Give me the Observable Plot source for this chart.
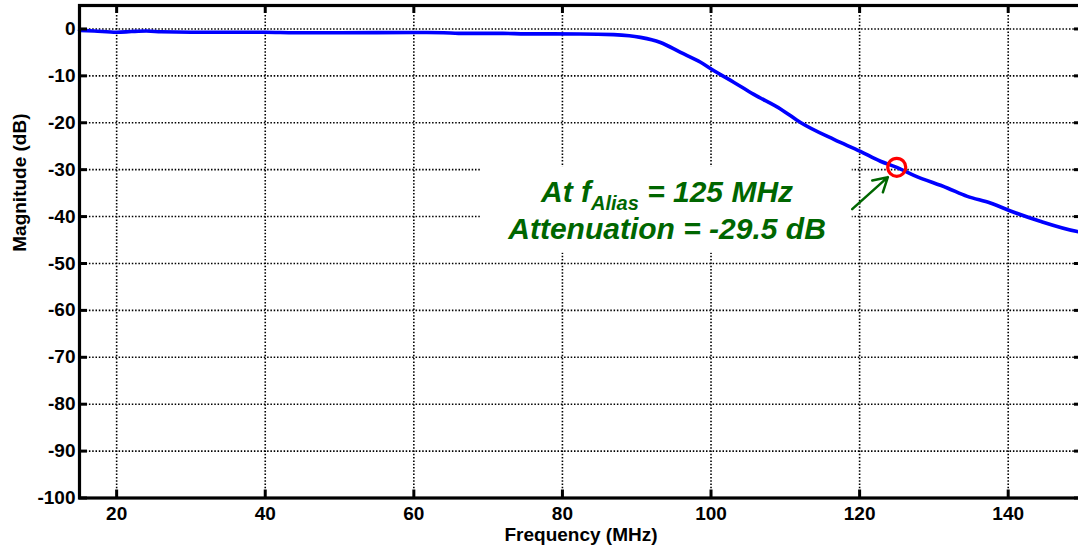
<!DOCTYPE html>
<html><head><meta charset="utf-8">
<script src="https://cdn.jsdelivr.net/npm/d3@7"></script>
<script src="https://cdn.jsdelivr.net/npm/@observablehq/plot@0.6"></script>
<style>html,body{margin:0;padding:0;overflow:hidden;background:#fff}</style>
</head><body><div id="chart"></div>
<script>
// ---- data ----
const freq = [15,17,20,22,24,26,30,40,44,50,60,64,66,72,75,82.4,86.9,89,90.5,92,93.2,95.9,98.6,100.4,103.1,105.7,109.4,112.1,116.6,120.1,122.8,125,127.3,131.8,134.5,137.6,140.3,144.3,149.3,150];
const magnitude = [-0.3,-0.45,-0.7,-0.55,-0.45,-0.6,-0.7,-0.7,-0.8,-0.8,-0.75,-0.8,-0.95,-0.95,-1.05,-1.07,-1.2,-1.45,-1.8,-2.3,-2.9,-5.0,-7.1,-8.9,-11.4,-13.9,-17.1,-20.0,-23.6,-26.1,-28.2,-29.5,-31.2,-33.9,-35.7,-37.1,-38.8,-41.0,-43.2,-43.4];
const xTicks = [20,40,60,80,100,120,140];
const yTicks = [0,-10,-20,-30,-40,-50,-60,-70,-80,-90,-100];
const xDomain = [15,150];
const yDomain = [-100,5];
const xLabel = "Frequency (MHz)";
const yLabel = "Magnitude (dB)";
const markerF = [125];
const markerDb = [-29.5];
const annoLine1 = ["At f","Alias"," = 125 MHz"];
const annoLine2 = "Attenuation = -29.5 dB";
const annoPos = {f: 94.08, db1: -36.8, db2: -44.68};
const annoBox = {f1: 69.1, f2: 119.0, db1: -29.4, db2: -47.8};
const arrowPts = {f1: 119.0, db1: -38.4, f2: 123.8, db2: -31.6};

// ---- layout ----
const W = 1078, H = 547, mL = 79, mR = -4, mT = 5, mB = 49.5;
const pxX = (W - mL - mR) / (xDomain[1] - xDomain[0]);
const pxY = (H - mT - mB) / (yDomain[1] - yDomain[0]);
const tickLen = 8;
const font = "'Liberation Sans', Arial, Helvetica, sans-serif";
const green = "#006600";

const curve = freq.map((f,i) => ({f, m: magnitude[i]}));
const marker = markerF.map((f,i) => ({f, m: markerDb[i]}));
const grid = {stroke: "black", strokeWidth: 1.6, strokeDasharray: "1.5,1.8", strokeOpacity: 1};

const plot = Plot.plot({
  width: W, height: H,
  marginLeft: mL, marginRight: mR, marginTop: mT, marginBottom: mB,
  style: {fontFamily: font, background: "white", color: "black"},
  x: {domain: xDomain},
  y: {domain: yDomain},
  marks: [
    Plot.ruleY(yTicks, {y: d => d, ...grid}),
    Plot.ruleX(xTicks, {x: d => d, ...grid}),
    Plot.rect([annoBox], {x1: "f1", x2: "f2", y1: "db1", y2: "db2", fill: "white"}),
    Plot.line(curve, {x: "f", y: "m", stroke: "#0000ff", strokeWidth: 3.6, curve: "monotone-x"}),
    Plot.dot(marker, {x: "f", y: "m", r: 9, stroke: "#ff0000", strokeWidth: 3.2, fill: "none"}),
    Plot.arrow([arrowPts], {x1: "f1", y1: "db1", x2: "f2", y2: "db2", stroke: green, strokeWidth: 2.5, headLength: 11}),
    Plot.text([annoLine1.join("")], {x: annoPos.f, y: annoPos.db1, text: d => d, lineAnchor: "bottom", textAnchor: "middle", fontSize: 30, fontWeight: "bold", fontStyle: "italic", fill: green}),
    Plot.text([annoLine2], {x: annoPos.f, y: annoPos.db2, text: d => d, lineAnchor: "bottom", textAnchor: "middle", fontSize: 30, fontWeight: "bold", fontStyle: "italic", fill: green}),
    // inward ticks on four sides
    Plot.ruleX(xTicks, {x: d => d, y1: yDomain[0], y2: yDomain[0] + tickLen / pxY, stroke: "black", strokeWidth: 3}),
    Plot.ruleX(xTicks, {x: d => d, y1: yDomain[1], y2: yDomain[1] - tickLen / pxY, stroke: "black", strokeWidth: 3}),
    Plot.ruleY(yTicks, {y: d => d, x1: xDomain[0], x2: xDomain[0] + tickLen / pxX, stroke: "black", strokeWidth: 3}),
    Plot.ruleY(yTicks, {y: d => d, x1: xDomain[1], x2: xDomain[1] - tickLen / pxX, stroke: "black", strokeWidth: 3}),
    Plot.frame({stroke: "black", strokeWidth: 3.2}),
    Plot.axisX(xTicks, {tickSize: 0, tickPadding: 8, fontSize: 19, fontWeight: "bold", tickFormat: d => String(d), label: null, fill: "black"}),
    Plot.axisY(yTicks, {tickSize: 0, tickPadding: 4, fontSize: 19, fontWeight: "bold", tickFormat: d => String(d), label: null, fill: "black"}),
    Plot.text([xLabel], {frameAnchor: "bottom", dy: 43, lineAnchor: "bottom", text: d => d, fontSize: 19, fontWeight: "bold", fill: "black"}),
    Plot.text([yLabel], {frameAnchor: "left", dx: -54, rotate: -90, lineAnchor: "bottom", text: d => d, fontSize: 19, fontWeight: "bold", fill: "black"})
  ]
});

// subscript for f_Alias
d3.select(plot).selectAll("text").filter(function(){ return this.textContent === annoLine1.join(""); })
  .each(function(){
    const t = d3.select(this);
    t.text(null);
    t.append("tspan").text(annoLine1[0]);
    t.append("tspan").attr("dy", 8).attr("font-size", 20).text(annoLine1[1]);
    t.append("tspan").attr("dy", -8).text(annoLine1[2]);
  });

document.getElementById("chart").appendChild(plot);
</script>
</body></html>
